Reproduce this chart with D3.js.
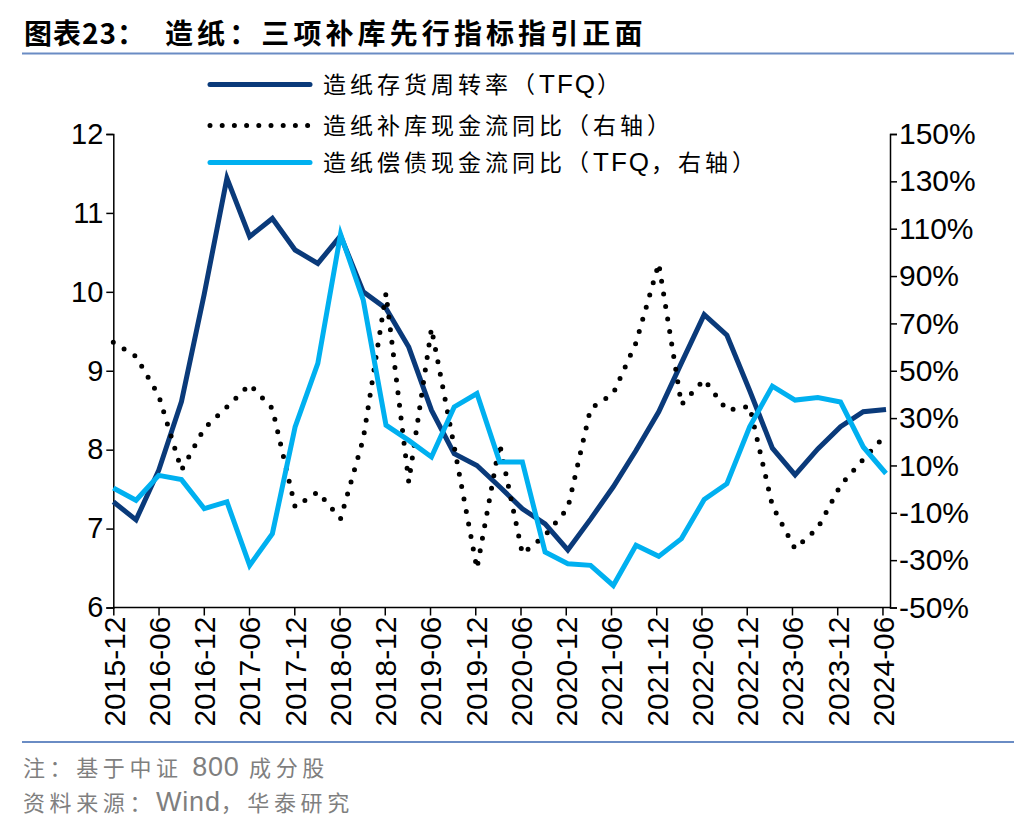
<!DOCTYPE html>
<html><head><meta charset="utf-8">
<script src="https://cdn.jsdelivr.net/npm/d3@7"></script>
<style>
body{margin:0;background:#fff;}
svg{display:block;}
</style></head><body>
<svg id="chart" width="1036" height="828"></svg>
<script>
// ---------- data ----------
const quarters = ["2015-12","2016-03","2016-06","2016-09","2016-12","2017-03","2017-06","2017-09","2017-12",
  "2018-03","2018-06","2018-09","2018-12","2019-03","2019-06","2019-09","2019-12","2020-03","2020-06",
  "2020-09","2020-12","2021-03","2021-06","2021-09","2021-12","2022-03","2022-06","2022-09","2022-12",
  "2023-03","2023-06","2023-09","2023-12","2024-03","2024-06"];
const tickLabels = ["2015-12","2016-06","2016-12","2017-06","2017-12","2018-06","2018-12","2019-06","2019-12",
  "2020-06","2020-12","2021-06","2021-12","2022-06","2022-12","2023-06","2023-12","2024-06"];
// 造纸存货周转率（TFQ） - left axis
const turnover = [7.34,7.11,7.74,8.61,9.97,11.44,10.70,10.93,10.53,10.36,10.71,10.00,9.79,9.30,8.50,7.95,7.80,
  7.53,7.25,7.06,6.73,7.12,7.53,7.99,8.48,9.10,9.71,9.45,8.75,8.02,7.68,8.01,8.29,8.48,8.51];
// 造纸补库现金流同比（右轴）, %
const restockCF = [62,56,39.5,8,25.6,34.7,44.2,34,-7.5,-1.2,-12.5,21.3,82.7,3,67.9,18,-33.6,19.2,-27.3,-19.5,-8,
  34,40.4,61.8,95.3,35.7,46.3,33.3,35,-7,-25.2,-16.4,1.6,12.6,23];
// 造纸偿债现金流同比（TFQ，右轴）, %
const debtCF = [0.5,-4.7,5.8,4.0,-8.2,-5.4,-32.2,-18.8,26.3,53.1,107.7,79.8,27.0,20.6,13.6,34.7,40.4,11.5,11.5,
  -26.6,-31.5,-32.2,-40.7,-23.7,-28.4,-20.9,-4.4,2.3,26.3,43.5,37.6,38.7,36.8,17.8,6.6];
const leftTicks = [6,7,8,9,10,11,12];
const rightTicks = [-50,-30,-10,10,30,50,70,90,110,130,150];
const seriesNames = [
  ["造纸存货周转率（", "TFQ", "）"],
  ["造纸补库现金流同比（右轴）"],
  ["造纸偿债现金流同比（", "TFQ", "，右轴）"]];
const titleParts = ["图表23：", "造纸：三项补库先行指标指引正面"];
const notes = [["注：基于中证 ", "800", " 成分股"], ["资料来源：", "Wind", "，华泰研究"]];

// ---------- layout ----------
const L = 113.3, R = 890, T = 134, B = 607.5;
const svg = d3.select("#chart");
const latin = "'Liberation Sans', Arial, 'Noto Sans CJK SC', sans-serif";
const cjk = "'Noto Sans CJK SC', 'Liberation Sans', sans-serif";

const xData = d3.scaleLinear().domain([0, quarters.length - 1]).range([L, 886]);
const xMonth = d3.scaleLinear().domain([0, 103]).range([L, R]);
const yL = d3.scaleLinear().domain([6, 12]).range([B, T]);
const yR = d3.scaleLinear().domain([-50, 150]).range([B, T]);

// mixed text helper: odd-index parts are Latin
function mixed(sel, parts, cjkSpacing, latinSpacing, latinSize) {
  parts.forEach((p, i) => {
    const isLatin = i % 2 === 1;
    const ts = sel.append("tspan").attr("font-family", isLatin ? latin : cjk)
      .attr("letter-spacing", isLatin ? latinSpacing : cjkSpacing).text(p);
    if (isLatin && latinSize) ts.attr("font-size", latinSize);
  });
}

// title
const title = svg.append("text").attr("y", 44).attr("font-weight", 700).attr("font-size", 28).attr("fill", "#000");
title.append("tspan").attr("x", 24).attr("font-family", cjk).attr("letter-spacing", 1).text(titleParts[0]);
title.append("tspan").attr("x", 165).attr("font-family", cjk).attr("letter-spacing", 4.1).text(titleParts[1]);
svg.append("line").attr("x1", 22).attr("x2", 1014).attr("y1", 53.5).attr("y2", 53.5)
  .attr("stroke", "#6a8cc4").attr("stroke-width", 2);
svg.append("line").attr("x1", 22).attr("x2", 1014).attr("y1", 742).attr("y2", 742)
  .attr("stroke", "#6a8cc4").attr("stroke-width", 2);

// notes
notes.forEach((parts, i) => {
  const t = svg.append("text").attr("x", 23).attr("y", 776 + i * 35)
    .attr("font-size", 22).attr("fill", "#7f7f7f");
  mixed(t, parts, 4.6, 0.8, 27);
});

// axes
const axisColor = "#000";
const gL = svg.append("g").attr("transform", `translate(${L},0)`)
  .call(d3.axisLeft(yL).tickValues(leftTicks).tickSize(7).tickPadding(3).tickFormat(d3.format("d")));
const gR = svg.append("g").attr("transform", `translate(${R},0)`)
  .call(d3.axisRight(yR).tickValues(rightTicks).tickSize(7).tickPadding(2).tickFormat(d => d + "%"));
const gX = svg.append("g").attr("transform", `translate(0,${B})`)
  .call(d3.axisBottom(xMonth).tickValues(tickLabels.map((d, i) => i * 6)).tickSize(8)
    .tickFormat((d, i) => tickLabels[i]));
[gL, gR, gX].forEach(g => {
  g.select(".domain").attr("stroke", axisColor).attr("stroke-width", 1.5);
  g.selectAll(".tick line").attr("stroke", axisColor).attr("stroke-width", 1.5);
  g.selectAll("text").attr("font-family", latin).attr("font-size", 29).attr("fill", "#000");
});
gR.selectAll(".tick text").attr("font-size", 30);
gX.select(".domain").attr("d", `M${L},0H${R}`);
gX.selectAll(".tick text").attr("font-size", 30)
  .attr("transform", "rotate(-90)").attr("text-anchor", "end")
  .attr("x", -9).attr("y", 0).attr("dy", "0.36em");

// lines
const navy = "#0a3a7a", cyan = "#00b0f0";
const lineL = d3.line().x((d, i) => xData(i)).y(d => yL(d));
const lineR = d3.line().x((d, i) => xData(i)).y(d => yR(d));
svg.append("path").attr("d", lineL(turnover)).attr("fill", "none")
  .attr("stroke", navy).attr("stroke-width", 5).attr("stroke-linejoin", "miter");
svg.append("path").attr("d", lineR(restockCF)).attr("fill", "none")
  .attr("stroke", "#000").attr("stroke-width", 5).attr("stroke-dasharray", "0 12.7")
  .attr("stroke-linecap", "round");
svg.append("path").attr("d", lineR(debtCF)).attr("fill", "none")
  .attr("stroke", cyan).attr("stroke-width", 5).attr("stroke-linejoin", "miter");

// legend
const legY = [84.5, 125.5, 162.5];
const legStyles = [
  {stroke: navy, dash: null},
  {stroke: "#000", dash: "0 12.2"},
  {stroke: cyan, dash: null}];
seriesNames.forEach((parts, i) => {
  const s = legStyles[i];
  const ln = svg.append("line").attr("x1", 210).attr("x2", 310)
    .attr("y1", legY[i]).attr("y2", legY[i]).attr("stroke", s.stroke).attr("stroke-width", 5)
    .attr("stroke-linecap", "round");
  if (s.dash) ln.attr("stroke-dasharray", s.dash);
  const t = svg.append("text").attr("x", 323).attr("y", legY[i] + 8.5)
    .attr("font-size", 23).attr("fill", "#000");
  mixed(t, parts, 4, 2, 26);
});
</script>
</body></html>
